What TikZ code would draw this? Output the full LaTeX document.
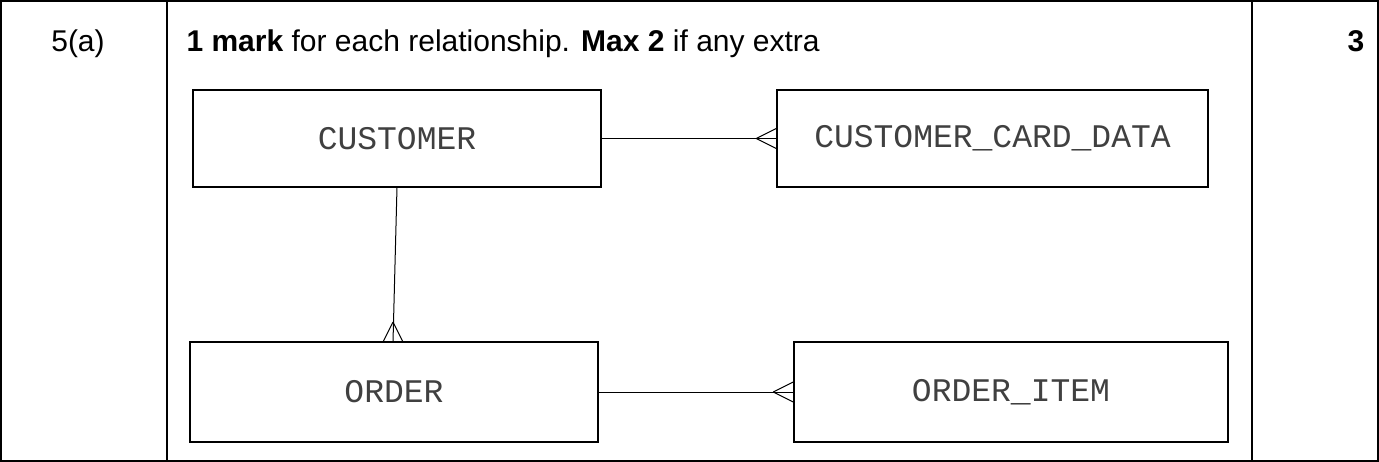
\documentclass[tikz,border=0pt]{standalone}
\usepackage{fontspec}
\usetikzlibrary{calc}
\setmainfont{Liberation Sans}
\newfontfamily\mono{Liberation Mono}
\begin{document}
\begin{tikzpicture}[x=1pt,y=-1pt,
  ent/.style={draw,line width=1.6pt,inner sep=0pt,font=\mono\fontsize{33}{38}\selectfont,text=black!75},
  rel/.style={line width=1pt},
  tbl/.style={line width=1.2pt},
  txt/.style={font=\fontsize{30}{36}\selectfont,anchor=base west}]
\useasboundingbox (0,0) rectangle (1379,462);
\draw[tbl] (1,1) rectangle (1378,461);
\draw[tbl] (167,1) -- (167,461);
\draw[tbl] (1252,1) -- (1252,461);
\node[txt,anchor=base] (q) at (78,52) {5(a)};
\node[txt] (h) at (183,52) {\textbf{1 mark} for each relationship. \textbf{Max 2} if any extra};
\node[txt,anchor=base] (m) at (1356,52) {\textbf{3}};
\node[ent,minimum width=408,minimum height=97] (c) at (397,138.5) {CUSTOMER};
\node[ent,minimum width=431,minimum height=97] (cd) at (992.5,138.5) {CUSTOMER\_CARD\_DATA};
\node[ent,minimum width=408,minimum height=100] (o) at (394,392) {ORDER};
\node[ent,minimum width=434,minimum height=100] (oi) at (1011,392) {ORDER\_ITEM};
\draw[rel] (c.east) -- (cd.west);
\draw[rel] ($(cd.west)+(-20,0)$) -- ($(cd.west)+(0,-10)$) ($(cd.west)+(-20,0)$) -- ($(cd.west)+(0,10)$);
\draw[rel] (o.east) -- (oi.west);
\draw[rel] ($(oi.west)+(-20,0)$) -- ($(oi.west)+(0,-10)$) ($(oi.west)+(-20,0)$) -- ($(oi.west)+(0,10)$);
\coordinate (ct) at (397,187);
\coordinate (ob) at (393,342);
\draw[rel] (ct) -- (ob);
\draw[rel] (393,322) -- (383,342) (393,322) -- (403,342);
\end{tikzpicture}
\end{document}
